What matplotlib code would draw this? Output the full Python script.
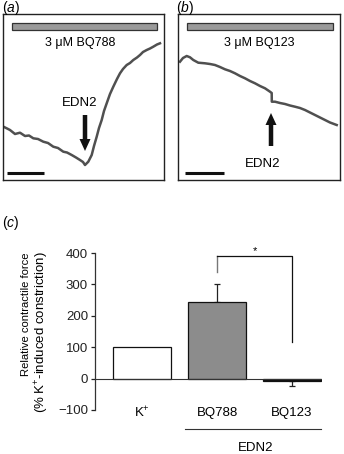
import matplotlib
matplotlib.use("Agg")
import matplotlib.pyplot as plt
from matplotlib.patches import Rectangle

plt.rcParams['font.family'] = ['Liberation Sans', 'DejaVu Sans']
plt.rcParams['mathtext.fontset'] = 'custom'
plt.rcParams['mathtext.rm'] = 'Liberation Sans'
plt.rcParams['mathtext.it'] = 'Liberation Sans:italic'

W, H = 344, 454

# ---- data: traces (panel pixel-like units, y grows downward) ----
trace_a_x = [3, 6.7, 10, 15, 20, 25, 29, 33.3, 38, 43.3, 48, 53.3, 58, 63.3, 67, 71.7, 76, 80, 83, 85,
             86.5, 88.3, 91.7, 94, 96.7, 99, 101.7, 104, 106.7, 110, 113.3, 117, 120, 123, 126.7, 130,
             133.3, 137, 140, 143, 146.7, 150, 153.3, 157, 160]
trace_a_y = [126.5, 128.3, 130, 134, 132.7, 136, 135.5, 138.3, 139, 141.7, 143, 146.7, 148, 151.7, 152.5,
             155, 157.5, 160, 162, 165, 163.5, 161.7, 155, 146, 136.7, 128, 120, 111, 103.3, 94, 86.7, 79,
             73.3, 69, 65, 63, 60, 57.5, 55, 52, 50, 48.5, 46.7, 44.5, 43.3]

trace_b_x = [180, 183, 186.7, 190, 193.3, 198.3, 205, 210, 215, 220, 225, 230, 235, 240, 245, 250, 255,
             260, 265, 270, 271.7, 271.8, 275, 280, 285, 290, 295, 300, 305, 310, 315, 320, 325, 330, 336.7]
trace_b_y = [61.7, 58, 56, 57.3, 60, 62.7, 63.3, 64, 65, 67, 69.3, 71, 73.3, 76, 78.3, 81, 83.3, 86,
             88.3, 91.7, 93, 101.7, 101.7, 103, 104, 105.5, 106.7, 108, 110, 112.5, 115, 117.5, 120, 122.5, 125]

# ---- data: panel (c) ----
categories = ['K$^{+}$', 'BQ788', 'BQ123']
values = [100, 245, -8]
err_upper = [0, 55, 0]
err_lower = [0, 0, 17]
bar_colors = ['white', '#8c8c8c', '#111111']
yticks = [-100, 0, 100, 200, 300, 400]
group_label = 'EDN2'

fig = plt.figure(figsize=(W / 100, H / 100), dpi=100)


def rect(l, t, r, b):
    return [l / W, 1 - b / H, (r - l) / W, (b - t) / H]


def panel(l, r, tx, label, arrow_from, arrow_to, edn_xy, sb):
    ax = fig.add_axes(rect(l, 14, r, 180))
    ax.set_xlim(l, r)
    ax.set_ylim(180, 14)
    ax.set_xticks([])
    ax.set_yticks([])
    for s in ax.spines.values():
        s.set_linewidth(1.0)
        s.set_color('#222222')
    ax.add_patch(Rectangle((l + 9, 23), (r - l) - 16, 7, facecolor='#9a9a9a',
                           edgecolor='#333333', lw=0.9))
    ax.text(tx, 43, label, ha='center', va='center', fontsize=9)
    ax.arrow(arrow_from[0], arrow_from[1], arrow_to[0] - arrow_from[0], arrow_to[1] - arrow_from[1],
             width=4.5, head_width=11, head_length=12, length_includes_head=True,
             color='#111111', lw=0)
    ax.text(edn_xy[0], edn_xy[1], 'EDN2', ha='center', va='center', fontsize=9.5)
    ax.plot(sb, [173, 173], color='#111111', lw=2.2, solid_capstyle='butt')
    return ax


axa = panel(3, 164, 80, '3 \u03bcM BQ788', (85, 115), (85, 151), (80, 103), [7, 44])
axa.plot(trace_a_x, trace_a_y, color='#505050', lw=1.8)
axb = panel(178, 340, 259, '3 \u03bcM BQ123', (271, 146), (271, 113), (263, 164), [185, 224])
axb.plot(trace_b_x, trace_b_y, color='#505050', lw=1.8)

fig.text(2 / W, 1 - 8 / H, '($\\it{a}$)', fontsize=10, va='center', ha='left')
fig.text(176 / W, 1 - 8 / H, '($\\it{b}$)', fontsize=10, va='center', ha='left')
fig.text(2 / W, 1 - 223 / H, '($\\it{c}$)', fontsize=10, va='center', ha='left')

# ---- panel (c) ----
axc = fig.add_axes(rect(95, 253, 322, 410))
x = list(range(len(categories)))
axc.set_xlim(-0.627, 2.40)
axc.set_ylim(-100, 400)
axc.bar(x, values, width=0.773, color=bar_colors, edgecolor='#111111', lw=0.9, zorder=2)
axc.errorbar([x[1], x[2]], [values[1], values[2]],
             yerr=[[err_lower[1], err_lower[2]], [err_upper[1], err_upper[2]]],
             fmt='none', ecolor='#222222', elinewidth=0.9, capsize=2.5, capthick=0.9, zorder=1)
axc.axhline(0, color='#333333', lw=0.8, zorder=3)
for s in ['top', 'right', 'bottom']:
    axc.spines[s].set_visible(False)
axc.spines['left'].set_color('#333333')
axc.spines['left'].set_linewidth(0.9)
axc.set_yticks(yticks)
axc.tick_params(axis='y', direction='out', length=3, width=0.9, labelsize=9.5, pad=2, colors='#222222')
axc.set_xticks([])
for xi, c in zip(x, categories):
    axc.text(xi, -110, c, ha='center', va='center', fontsize=9.5, clip_on=False)
axc.plot([0.573, 2.387], [-160, -160], color='#333333', lw=0.8, clip_on=False)
axc.text(1.52, -221, group_label, ha='center', va='center', fontsize=9.5, clip_on=False)

# significance bracket
axc.plot([x[1], x[1]], [341, 392], color='#777777', lw=1.0, clip_on=False)
axc.plot([x[1], x[2], x[2]], [392, 392, 115], color='#111111', lw=0.9, clip_on=False)
axc.text((x[1] + x[2]) / 2, 406, '*', ha='center', va='center', fontsize=8, clip_on=False)

fig.text(26 / W, 1 - 252 / H, 'Relative contractile force', rotation=90,
         ha='center', va='top', fontsize=8.1)
fig.text(41.5 / W, 1 - 251 / H, '(% K$^{+}$-induced constriction)', rotation=90,
         ha='center', va='top', fontsize=9.5)

fig.savefig('out.png', dpi=100)
